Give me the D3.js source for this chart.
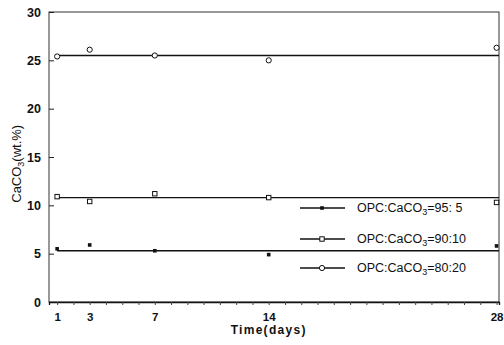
<!DOCTYPE html>
<html>
<head>
<meta charset="utf-8">
<script src="https://cdn.jsdelivr.net/npm/d3@7"></script>
<style>
  body { margin: 0; background: #fff; }
  text { font-family: "Liberation Sans", Arial, sans-serif; font-weight: bold; fill: #111; }
</style>
</head>
<body>
<div id="chart"></div>
<script>
// data
const days = [1, 3, 7, 14, 28];
const labels = ["OPC:CaCO\u2083=95: 5", "OPC:CaCO\u2083=90:10", "OPC:CaCO\u2083=80:20"];
const s95 = [5.5, 5.9, 5.3, 4.9, 5.8];
const s90 = [10.9, 10.4, 11.2, 10.8, 10.3];
const s80 = [25.4, 26.1, 25.5, 25.0, 26.3];
const fitLines = [5.3, 10.8, 25.5];
const yTicks = [0, 5, 10, 15, 20, 25, 30];
const xTickLabels = [1, 3, 7, 14, 28];

const W = 504, H = 345;
const margin = {left: 49, right: 5, top: 12, bottom: 43};

const svg = d3.select('#chart').append('svg')
  .attr('width', W).attr('height', H);

// scales
let x = d3.scaleLinear().domain([0.5, 28.15]).range([margin.left, W - margin.right]);
let y = d3.scaleLinear().domain([0, 30]).range([H - margin.bottom, margin.top]);

// frame
svg.append('rect')
  .attr('x', margin.left).attr('y', margin.top)
  .attr('width', W - margin.left - margin.right)
  .attr('height', H - margin.top - margin.bottom)
  .attr('fill', 'none').attr('stroke', '#333').attr('stroke-width', 1);

// y axis - ticks pointing in
let yAxis = d3.axisLeft(y).tickValues(yTicks).tickSizeInner(-5).tickSizeOuter(0).tickPadding(8);
let gy = svg.append('g').attr('transform', `translate(${margin.left},0)`).call(yAxis);
gy.select('.domain').remove();
gy.selectAll('text').style('font-size', '12.5px');
gy.selectAll('line').attr('stroke', '#222');

// x axis - a tick every day
let xAxis = d3.axisBottom(x).tickValues(d3.range(1, 29)).tickSize(3).tickPadding(8)
  .tickFormat(d => xTickLabels.includes(d) ? d : '');
let gx = svg.append('g').attr('transform', `translate(0,${H - margin.bottom})`).call(xAxis);
gx.select('.domain').attr('stroke', '#111').attr('stroke-width', 1.3);
gx.selectAll('text').style('font-size', '11.5px');
gx.selectAll('line').attr('stroke', '#444');

// axis titles
svg.append('text')
  .attr('x', x(14)).attr('y', 334)
  .attr('text-anchor', 'middle').style('font-size', '12px').style('letter-spacing', '1.3px')
  .text('Time(days)');

let yl = svg.append('text')
  .attr('transform', `translate(21,${y(14.3)}) rotate(-90)`)
  .attr('text-anchor', 'middle').style('font-size', '13px').style('font-weight', 'normal');
yl.append('tspan').text('CaCO');
yl.append('tspan').attr('dy', 3).style('font-size', '9px').text('3');
yl.append('tspan').attr('dy', -3).text('(wt.%)');

// horizontal mean lines
svg.selectAll('.fit').data(fitLines).enter().append('line')
  .attr('class', 'fit')
  .attr('x1', x(1)).attr('x2', x(28.15))
  .attr('y1', d => y(d)).attr('y2', d => y(d))
  .attr('stroke', '#111').attr('stroke-width', 1.3);

// markers
function drawMarker(g, type, cx, cy) {
  if (type === 'filled') {
    g.append('rect').attr('x', cx - 1.8).attr('y', cy - 1.8).attr('width', 3.6).attr('height', 3.6)
      .attr('fill', '#111');
  } else if (type === 'square') {
    g.append('rect').attr('x', cx - 2.2).attr('y', cy - 2.2).attr('width', 4.4).attr('height', 4.4)
      .attr('fill', '#fff').attr('stroke', '#111').attr('stroke-width', 1);
  } else {
    g.append('circle').attr('cx', cx).attr('cy', cy).attr('r', 2.6)
      .attr('fill', '#fff').attr('stroke', '#111').attr('stroke-width', 1);
  }
}

const series = [
  {vals: s95, type: 'filled'},
  {vals: s90, type: 'square'},
  {vals: s80, type: 'circle'}
];
let pts = svg.append('g');
series.forEach(s => {
  s.vals.forEach((v, i) => drawMarker(pts, s.type, x(days[i]), y(v)));
});

// legend
const legY = [208, 239, 268];
let leg = svg.append('g');
series.forEach((s, i) => {
  leg.append('line').attr('x1', 300).attr('x2', 345)
    .attr('y1', legY[i]).attr('y2', legY[i])
    .attr('stroke', '#111').attr('stroke-width', 1.3);
  drawMarker(leg, s.type, 322, legY[i]);
  let t = leg.append('text').attr('x', 357).attr('y', legY[i] + 4)
    .style('font-size', '12.5px').style('font-weight', 'normal');
  let parts = labels[i].split('\u2083');
  t.append('tspan').text(parts[0]);
  t.append('tspan').attr('dy', 3).style('font-size', '9px').text('3');
  t.append('tspan').attr('dy', -3).text(parts[1]);
});
</script>
</body>
</html>
